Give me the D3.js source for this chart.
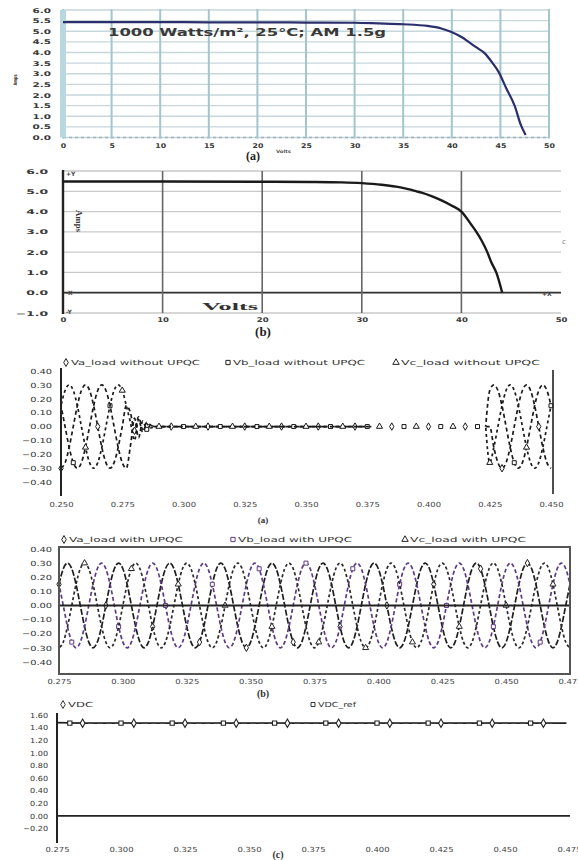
<!DOCTYPE html>
<html>
<head>
<meta charset="utf-8">
<script src="https://cdn.jsdelivr.net/npm/d3@7"></script>
<style>
  body { margin: 0; background: #fff; }
  svg { display: block; }
</style>
</head>
<body>
<script>
// ---------- data ----------
// (a) I-V curve, 1000 W/m2
const voltsA = [0, 5, 10, 15, 20, 25, 30, 32.4, 35, 37.5, 39, 39.9, 41, 41.7, 42.5, 43.4, 44.2, 44.8, 45.6, 46.5, 47.1, 47.6];
const ampsA = [5.43, 5.43, 5.43, 5.42, 5.42, 5.41, 5.40, 5.37, 5.33, 5.25, 5.12, 4.98, 4.73, 4.51, 4.25, 3.96, 3.50, 3.10, 2.32, 1.45, 0.59, 0.12];
const voltTicksA = [0, 5, 10, 15, 20, 25, 30, 35, 40, 45, 50];
const ampTicksA = [0, 0.5, 1, 1.5, 2, 2.5, 3, 3.5, 4, 4.5, 5, 5.5, 6];

// (b) I-V curve
const voltsB = [0, 10, 20, 25, 28, 30, 32, 34, 35, 35.5, 36, 37, 38, 39, 40, 41, 41.5, 42, 42.6, 43, 43.5, 44.1];
const ampsB = [5.48, 5.48, 5.47, 5.46, 5.44, 5.40, 5.32, 5.18, 5.07, 5.0, 4.93, 4.76, 4.55, 4.3, 4.0, 3.35, 3.0, 2.6, 2.0, 1.5, 1.0, 0.0];
const voltTicksB = [0, 10, 20, 30, 40, 50];
const ampTicksB = [-1, 0, 1, 2, 3, 4, 5, 6];

const cycleShape = [0.30, 0.26, 0.15, 0.00, -0.15, -0.26, -0.30, -0.26, -0.15, 0.00, 0.15, 0.26];
const sampleStep = 0.02 / 12;
const voltTicksWave = [-0.4, -0.3, -0.2, -0.1, 0, 0.1, 0.2, 0.3, 0.4];

const timeTicksC = [0.25, 0.275, 0.3, 0.325, 0.35, 0.375, 0.4, 0.425, 0.45];
const peakIndexC = [6, 10, 2];           // sample at which phases a, b, c peak
const transientA = [0.10, -0.03, 0.07, -0.02, 0.03, 0.01];
const transientB = [-0.14, 0.06, -0.08, 0.04, -0.02, 0.01];
const transientC = [0.03, -0.10, 0.05, -0.04, 0.02, -0.01];
const lineGapC = [0.377, 0.4225];        // only markers are visible here
const legendC = ["Va_load without UPQC", "Vb_load without UPQC", "Vc_load without UPQC"];

const timeTicksD = [0.275, 0.3, 0.325, 0.35, 0.375, 0.4, 0.425, 0.45, 0.475];
const peakIndexD = [2, 10, 6];
const legendD = ["Va_load with UPQC", "Vb_load with UPQC", "Vc_load with UPQC"];

// (e) dc link voltage
const dcTimes = [0.275, 0.285, 0.295, 0.305, 0.315, 0.325, 0.335, 0.345, 0.355, 0.365, 0.375, 0.385, 0.395, 0.405, 0.415, 0.425, 0.435, 0.445, 0.455, 0.465, 0.474];
const dcVolts = [1.48, 1.47, 1.47, 1.47, 1.47, 1.47, 1.47, 1.47, 1.47, 1.47, 1.47, 1.47, 1.47, 1.47, 1.47, 1.47, 1.47, 1.47, 1.47, 1.47, 1.47];
const refTimes = [0.28, 0.29, 0.30, 0.31, 0.32, 0.33, 0.34, 0.35, 0.36, 0.37, 0.38, 0.39, 0.40, 0.41, 0.42, 0.43, 0.44, 0.45, 0.46, 0.47];
const refVolts = [1.47, 1.47, 1.47, 1.47, 1.47, 1.47, 1.47, 1.47, 1.47, 1.47, 1.47, 1.47, 1.47, 1.47, 1.47, 1.47, 1.47, 1.47, 1.47, 1.47];
const timeTicksE = [0.275, 0.3, 0.325, 0.35, 0.375, 0.4, 0.425, 0.45, 0.475];
const dcTicksE = [-0.2, 0, 0.2, 0.4, 0.6, 0.8, 1.0, 1.2, 1.4, 1.6];
const legendE = ["VDC", "VDC_ref"];

// ---------- helpers ----------
const svg = d3.select("body").append("svg").attr("width", 578).attr("height", 860);

function stretch(sel, factor) {
  sel.each(function () {
    const w = this.getComputedTextLength();
    d3.select(this).attr("textLength", w * factor).attr("lengthAdjust", "spacingAndGlyphs");
  });
}

function drawAxis(g, axis, o) {
  g.call(axis);
  g.select(".domain").remove();
  g.selectAll(".tick line").remove();
  const t = g.selectAll(".tick text")
    .attr("font-family", o.font || "DejaVu Sans")
    .attr("font-size", o.size)
    .attr("font-weight", o.weight || "normal")
    .attr("fill", o.color || "#333");
  if (o.stretch) stretch(t, o.stretch);
}

function label(x, y, txt, o) {
  const t = svg.append("text").attr("x", x).attr("y", y).text(txt)
    .attr("font-family", o.font || "DejaVu Sans")
    .attr("font-size", o.size)
    .attr("font-weight", o.weight || "normal")
    .attr("fill", o.color || "#222")
    .attr("text-anchor", o.anchor || "start");
  if (o.width) t.attr("textLength", o.width).attr("lengthAdjust", "spacingAndGlyphs");
  if (o.rotate) t.attr("transform", `rotate(${o.rotate},${x},${y})`);
  return t;
}

const mod12 = k => ((k % 12) + 12) % 12;
const symbols = [d3.symbolDiamond, d3.symbolSquare, d3.symbolTriangle];

function hline(y, x1, x2, color, w, dash) {
  svg.append("line").attr("x1", x1).attr("x2", x2).attr("y1", y).attr("y2", y)
    .attr("stroke", color).attr("stroke-width", w).attr("stroke-dasharray", dash || null);
}
function vline(x, y1, y2, color, w) {
  svg.append("line").attr("x1", x).attr("x2", x).attr("y1", y1).attr("y2", y2)
    .attr("stroke", color).attr("stroke-width", w);
}

// ---------- (a) ----------
const xA = d3.scaleLinear().domain([0, 50]).range([63, 549]);
const yA = d3.scaleLinear().domain([0, 6]).range([137.5, 10]);

ampTicksA.forEach(d => hline(yA(d), xA(0), xA(50), "#c5d7db", 1.3));
hline(yA(0), xA(0), xA(50), "#9fb4ba", 1.3, "3,3");
voltTicksA.forEach(d => vline(xA(d), yA(6) - 1, yA(0) + 1, "#a3c6ce", 2));
svg.append("rect").attr("x", xA(0) - 3).attr("y", yA(6)).attr("width", 6).attr("height", yA(0) - yA(6))
  .attr("fill", "#b9d7de");

drawAxis(svg.append("g").attr("transform", "translate(51,0)"),
  d3.axisLeft(yA).tickValues(ampTicksA).tickFormat(d3.format(".1f")).tickSize(0).tickPadding(0),
  { size: 6.5, weight: "bold", color: "#3a3a3a", stretch: 1.6 });
drawAxis(svg.append("g").attr("transform", "translate(0,142)"),
  d3.axisBottom(xA).tickValues(voltTicksA).tickFormat(d3.format("d")).tickSize(0).tickPadding(1),
  { size: 6.5, weight: "bold", color: "#3a3a3a", stretch: 1.2 });

svg.append("path").datum(voltsA.map((v, i) => [v, ampsA[i]]))
  .attr("fill", "none").attr("stroke", "#2b2f6b").attr("stroke-width", 2.2)
  .attr("d", d3.line().x(d => xA(d[0])).y(d => yA(d[1])).curve(d3.curveMonotoneX));

label(108, 36, "1000 Watts/m², 25°C; AM 1.5g", { size: 10, weight: "bold", color: "#3a3a3a", width: 278 });
label(17, 80, "Amps", { size: 5, weight: "bold", color: "#333", anchor: "middle", rotate: -90, width: 11 });
label(253, 160, "(a)", { font: "Liberation Serif", size: 12, weight: "bold", anchor: "middle" });
label(276, 153, "Volts", { size: 4.5, weight: "bold", color: "#555", width: 15 });

// ---------- (b) ----------
const xB = d3.scaleLinear().domain([0, 50]).range([63, 561]);
const yB = d3.scaleLinear().domain([-1, 6]).range([313, 171]);

ampTicksB.forEach(d => hline(yB(d), xB(0), xB(50), "#c9c9c9", 1.3));
hline(yB(0), xB(0), xB(50), "#333", 1.8);
voltTicksB.slice(1, 5).forEach(d => vline(xB(d), yB(6), yB(-1), "#666", 1.6));
vline(xB(0), yB(6) - 1, yB(-1) + 1, "#222", 2.4);

drawAxis(svg.append("g").attr("transform", "translate(48,0)"),
  d3.axisLeft(yB).tickValues(ampTicksB).tickFormat(d3.format(".1f")).tickSize(0).tickPadding(0),
  { size: 6.5, weight: "bold", color: "#3a3a3a", stretch: 1.9 });
drawAxis(svg.append("g").attr("transform", "translate(0,316)"),
  d3.axisBottom(xB).tickValues(voltTicksB).tickFormat(d3.format("d")).tickSize(0).tickPadding(1),
  { size: 6.5, weight: "bold", color: "#3a3a3a", stretch: 1.3 });

svg.append("path").datum(voltsB.map((v, i) => [v, ampsB[i]]))
  .attr("fill", "none").attr("stroke", "#1a1a1a").attr("stroke-width", 2.4)
  .attr("d", d3.line().x(d => xB(d[0])).y(d => yB(d[1])).curve(d3.curveMonotoneX));

label(66, 176, "+Y", { size: 6, weight: "bold", color: "#444" });
label(66, 295, "-X", { size: 6, weight: "bold", color: "#444" });
label(66, 314, "-Y", { size: 6, weight: "bold", color: "#444" });
label(542, 296, "+X", { size: 6, weight: "bold", color: "#444" });
label(562, 244, "c", { size: 7, color: "#777" });
label(76, 210, "Amps", { font: "Liberation Serif", size: 9, weight: "bold", color: "#333", rotate: 90, width: 22 });
label(202, 310, "Volts", { font: "Liberation Serif", size: 11, weight: "bold", color: "#333", width: 56 });
label(263, 336, "(b)", { font: "Liberation Serif", size: 13, weight: "bold", anchor: "middle" });

// ---------- waveform panels ----------
function buildSeries(t0, n, valueAt) {
  return d3.range(n + 1).map(k => ({ t: t0 + k * sampleStep, v: valueAt(k), k }));
}

function drawLegend(items, xs, y, colors) {
  items.forEach((txt, i) => {
    svg.append("path").attr("transform", `translate(${xs[i][0] + 3},${y - 2.5})`)
      .attr("d", d3.symbol().type(symbols[i]).size(18))
      .attr("fill", "#fff").attr("stroke", colors[i]).attr("stroke-width", 1);
    label(xs[i][0] + 8, y, txt, { size: 7, color: "#333", width: xs[i][1] - xs[i][0] - 8 });
  });
}

function drawWaves(series, x, y, colors, dash, markEvery, gap) {
  const line = d3.line().x(d => x(d.t)).y(d => y(d.v)).curve(d3.curveMonotoneX)
    .defined(d => !gap || d.t < gap[0] || d.t > gap[1]);
  series.forEach((s, i) => {
    svg.append("path").datum(s).attr("fill", "none")
      .attr("stroke", colors[i]).attr("stroke-width", 1.7)
      .attr("stroke-dasharray", dash[i]).attr("stroke-dashoffset", i * 2.3)
      .attr("d", line);
    svg.selectAll(null).data(s.filter(d => d.k % markEvery === (i * 3) % markEvery)).enter()
      .append("path")
      .attr("transform", d => `translate(${x(d.t)},${y(d.v)})`)
      .attr("d", d3.symbol().type(symbols[i]).size(16))
      .attr("fill", "#fff").attr("stroke", colors[i]).attr("stroke-width", 1);
  });
}

// ---------- (c) without UPQC ----------
const xC = d3.scaleLinear().domain([0.25, 0.45]).range([61, 551]);
const yC = d3.scaleLinear().domain([-0.5, 0.4]).range([496, 371]);
const transientsC = [transientA, transientB, transientC];
const seriesC = peakIndexC.map((p, i) => buildSeries(0.25, 120, k => {
  if (k <= 16 || k >= 105) return cycleShape[mod12(k - p)];
  if (k - 17 < transientsC[i].length) return transientsC[i][k - 17];
  return 0;
}));

drawLegend(legendC, [[63, 200], [225, 365], [393, 540]], 365, ["#222", "#222", "#222"]);
drawWaves(seriesC, xC, yC, ["#1a1a1a", "#1a1a1a", "#1a1a1a"], ["4,3", "4,3", "3,3"], 9, lineGapC);
vline(61, 368, 496, "#222", 2);
vline(553, 370, 494, "#222", 1.6);
drawAxis(svg.append("g").attr("transform", "translate(52,0)"),
  d3.axisLeft(yC).tickValues(voltTicksWave).tickFormat(d3.format(".2f")).tickSize(0).tickPadding(0),
  { size: 7, color: "#333", stretch: 1.4 });
drawAxis(svg.append("g").attr("transform", "translate(0,501)"),
  d3.axisBottom(xC).tickValues(timeTicksC).tickFormat(d3.format(".3f")).tickSize(0).tickPadding(1),
  { size: 7, color: "#444", stretch: 1.2 });
label(263, 523, "(a)", { font: "Liberation Serif", size: 9, weight: "bold", anchor: "middle", color: "#333" });

// ---------- (d) with UPQC ----------
const xD = d3.scaleLinear().domain([0.275, 0.475]).range([59, 570]);
const yD = d3.scaleLinear().domain([-0.5, 0.4]).range([676, 549]);
const seriesD = peakIndexD.map(p => buildSeries(0.275, 120, k => cycleShape[mod12(k - p)]));

drawLegend(legendD, [[61, 183], [230, 352], [402, 526]], 542, ["#222", "#5e3a86", "#222"]);
drawWaves(seriesD, xD, yD, ["#1e1e1e", "#5e3a86", "#2a2a2a"], ["6,2", "4,2.5", "3,2.5"], 11);
hline(yD(0), 59, 570, "#222", 2);
svg.append("rect").attr("x", 59).attr("y", 547).attr("width", 511).attr("height", 127)
  .attr("fill", "none").attr("stroke", "#555").attr("stroke-width", 2);
drawAxis(svg.append("g").attr("transform", "translate(52,0)"),
  d3.axisLeft(yD).tickValues(voltTicksWave).tickFormat(d3.format(".2f")).tickSize(0).tickPadding(0),
  { size: 7, color: "#333", stretch: 1.4 });
drawAxis(svg.append("g").attr("transform", "translate(0,678)"),
  d3.axisBottom(xD).tickValues(timeTicksD).tickFormat(d3.format(".3f")).tickSize(0).tickPadding(1),
  { size: 7, color: "#444", stretch: 1.2 });
label(263, 697, "(b)", { font: "Liberation Serif", size: 10, weight: "bold", anchor: "middle", color: "#333" });

// ---------- (e) dc link ----------
const xE = d3.scaleLinear().domain([0.275, 0.475]).range([57, 569]);
const yE = d3.scaleLinear().domain([-0.4, 1.6]).range([841, 715]);

hline(yE(0), 57, 570, "#222", 1.8);
vline(57, 713, 843, "#222", 2);
const lineE = d3.line().x(d => xE(d[0])).y(d => yE(d[1]));
svg.append("path").datum(dcTimes.map((t, i) => [t, dcVolts[i]]))
  .attr("fill", "none").attr("stroke", "#222").attr("stroke-width", 1.8).attr("d", lineE);
svg.append("path").datum(refTimes.map((t, i) => [t, refVolts[i]]))
  .attr("fill", "none").attr("stroke", "#444").attr("stroke-width", 1.4).attr("stroke-dasharray", "6,3").attr("d", lineE);
svg.selectAll(null).data(dcTimes.map((t, i) => [t, dcVolts[i]]).filter((d, i) => i % 2 === 1)).enter()
  .append("path").attr("transform", d => `translate(${xE(d[0])},${yE(d[1])})`)
  .attr("d", d3.symbol().type(d3.symbolDiamond).size(20))
  .attr("fill", "#fff").attr("stroke", "#222").attr("stroke-width", 1.1);
svg.selectAll(null).data(refTimes.map((t, i) => [t, refVolts[i]]).filter((d, i) => i % 2 === 0)).enter()
  .append("path").attr("transform", d => `translate(${xE(d[0])},${yE(d[1])})`)
  .attr("d", d3.symbol().type(d3.symbolSquare).size(18))
  .attr("fill", "#fff").attr("stroke", "#222").attr("stroke-width", 1.1);

svg.append("path").attr("transform", "translate(63,704.5)")
  .attr("d", d3.symbol().type(d3.symbolDiamond).size(18)).attr("fill", "#fff").attr("stroke", "#333");
label(68, 707, legendE[0], { size: 7, color: "#333", width: 25 });
svg.append("path").attr("transform", "translate(313,704.5)")
  .attr("d", d3.symbol().type(d3.symbolSquare).size(16)).attr("fill", "#fff").attr("stroke", "#333");
label(318, 707, legendE[1], { size: 7, color: "#333", width: 38 });

drawAxis(svg.append("g").attr("transform", "translate(48,0)"),
  d3.axisLeft(yE).tickValues(dcTicksE).tickFormat(d3.format(".2f")).tickSize(0).tickPadding(0),
  { size: 7, color: "#333", stretch: 1.15 });
drawAxis(svg.append("g").attr("transform", "translate(0,846)"),
  d3.axisBottom(xE).tickValues(timeTicksE).tickFormat(d3.format(".3f")).tickSize(0).tickPadding(1),
  { size: 7, color: "#444", stretch: 1.2 });
label(278, 858, "(c)", { font: "Liberation Serif", size: 10, weight: "bold", anchor: "middle", color: "#333" });
</script>
</body>
</html>
